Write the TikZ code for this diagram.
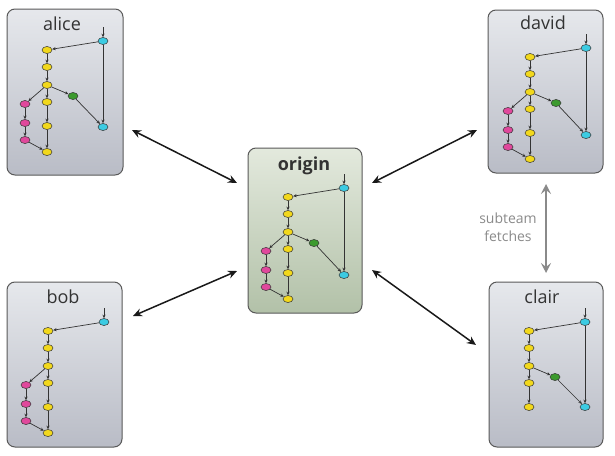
\documentclass[tikz,border=0pt]{standalone}
\usepackage{fontspec}
\setmainfont{Open Sans}
\usetikzlibrary{arrows.meta,shapes.geometric}
\definecolor{cyellow}{HTML}{F2D81C}
\definecolor{cpink}{HTML}{E0489C}
\definecolor{ccyan}{HTML}{3CCBE2}
\definecolor{cgreen}{HTML}{3C9A2E}
\definecolor{edgec}{HTML}{333333}
\definecolor{boxtop}{HTML}{E6E8EC}
\definecolor{boxbot}{HTML}{B9BCC6}
\definecolor{origtop}{HTML}{E3E9DD}
\definecolor{origbot}{HTML}{B2C1A8}
\definecolor{titlec}{HTML}{333333}
\definecolor{subc}{HTML}{8A8A8A}
\tikzset{
  commit/.style={ellipse,draw=edgec,line width=0.5pt,minimum width=10pt,minimum height=7pt,inner sep=0pt},
  yc/.style={commit,fill=cyellow},
  pc/.style={commit,fill=cpink},
  cc/.style={commit,fill=ccyan},
  gc/.style={commit,fill=cgreen},
  link/.style={draw=edgec,line width=0.7pt,-{Stealth[length=3.6pt,width=3.2pt]}},
  repobox/.style={draw=black!65,line width=1pt,rounded corners=8pt,inner sep=0pt,
    top color=boxtop,bottom color=boxbot},
  origbox/.style={repobox,top color=origtop,bottom color=origbot},
  title/.style={text=titlec,font=\fontsize{18}{18}\selectfont},
  bigarrow/.style={draw=black!90,line width=1.5pt,
    {Stealth[length=9pt,width=8pt,inset=3pt]}-{Stealth[length=9pt,width=8pt,inset=3pt]}},
  subarrow/.style={draw=subc,line width=2pt,
    {Stealth[length=10pt,width=10pt,inset=4pt]}-{Stealth[length=10pt,width=10pt,inset=4pt]}},
}
\newcommand\repostem[3]{%
  \begin{scope}[shift={(#2,#3)}]
    \node[cc] (#1cT) at (56,-9) {};
    \coordinate (#1in) at (56,-23);
    \node[yc] (#1y1) at (0,0) {};
    \node[yc] (#1y2) at (0,17) {};
    \node[yc] (#1y3) at (0,35) {};
    \node[yc] (#1y4) at (0,52) {};
    \node[yc] (#1y5) at (0,76) {};
  \end{scope}
  \draw[link] (#1in) -- (#1cT);
  \draw[link] (#1cT) -- (#1y1);
  \draw[link] (#1y1) -- (#1y2);
  \draw[link] (#1y2) -- (#1y3);
  \draw[link] (#1y3) -- (#1y4);
  \draw[link] (#1y4) -- (#1y5);
}
\newcommand\repopink[3]{%
  \begin{scope}[shift={(#2,#3)}]
    \node[pc] (#1p1) at (-22,54) {};
    \node[pc] (#1p2) at (-22,73) {};
    \node[pc] (#1p3) at (-22,90) {};
    \node[yc] (#1y6) at (0,102) {};
  \end{scope}
  \draw[link] (#1y3) -- (#1p1);
  \draw[link] (#1p1) -- (#1p2);
  \draw[link] (#1p2) -- (#1p3);
  \draw[link] (#1p3) -- (#1y6);
  \draw[link] (#1y5) -- (#1y6);
}
\newcommand\repogreen[4]{%
  \begin{scope}[shift={(#2,#3)}]
    \node[gc] (#1g) at (26,46) {};
    \node[cc] (#1cB) at (56,#4) {};
  \end{scope}
  \draw[link] (#1y3) -- (#1g);
  \draw[link] (#1g) -- (#1cB);
  \draw[link] (#1cT) -- (#1cB);
}
\begin{document}
\begin{tikzpicture}[x=1pt,y=-1pt]
\useasboundingbox (0,0) rectangle (615,455);
% boxes
\node[repobox,minimum width=116pt,minimum height=166pt] (alicebox) at (65,92) {};
\node[repobox,minimum width=115pt,minimum height=165pt] (bobbox) at (64.5,364.5) {};
\node[origbox,minimum width=114pt,minimum height=165pt] (originbox) at (305,230.5) {};
\node[repobox,minimum width=115pt,minimum height=163pt] (davidbox) at (545.5,91.5) {};
\node[repobox,minimum width=114pt,minimum height=165pt] (clairbox) at (546,364.5) {};
% titles
\node[title] (alicet) at (62,24) {alice};
\node[title] (bobt) at (63,297) {bob};
\node[title,font=\fontsize{18}{18}\selectfont\bfseries] (origint) at (304,166) {origin};
\node[title] (davidt) at (543,23) {david};
\node[title] (clairt) at (542,297) {clair};
% graphs
\repostem{a}{47}{50}\repopink{a}{47}{50}\repogreen{a}{47}{50}{77}
\repostem{b}{48}{331}\repopink{b}{48}{331}
\repostem{o}{288}{197}\repopink{o}{288}{197}\repogreen{o}{288}{197}{78}
\repostem{d}{530}{57}\repopink{d}{530}{57}\repogreen{d}{530}{57}{78}
\repostem{c}{529}{331}\repogreen{c}{529}{331}{76}
% big arrows
\coordinate (aE) at (132,130);
\coordinate (oA) at (237,183);
\coordinate (bE) at (133,316);
\coordinate (oB) at (237,271);
\coordinate (dE) at (477,130);
\coordinate (oD) at (372,183);
\coordinate (cE) at (476,345);
\coordinate (oC) at (372,270);
\draw[bigarrow] (aE) -- (oA);
\draw[bigarrow] (bE) -- (oB);
\draw[bigarrow] (dE) -- (oD);
\draw[bigarrow] (cE) -- (oC);
% subteam
\coordinate (sT) at (546,184);
\coordinate (sB) at (546,273);
\draw[subarrow] (sT) -- (sB);
\node[text=subc,align=center,font=\fontsize{14}{18}\selectfont] (sublabel) at (508,227) {subteam\\fetches};
\end{tikzpicture}
\end{document}
